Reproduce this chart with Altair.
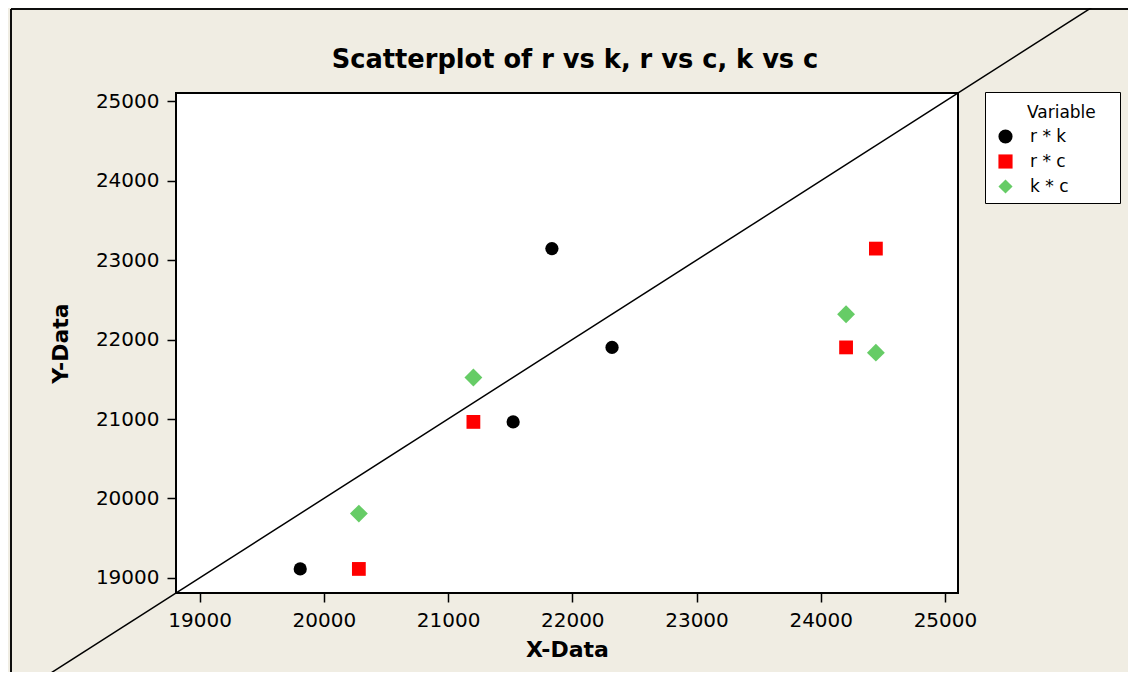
import altair as alt
import pandas as pd

# values
r_vals = [19113, 20964, 23146, 21902]
k_vals = [19810, 21524, 21836, 22320]
c_vals = [20282, 21204, 24444, 24204]

series_names = ["r * k", "r * c", "k * c"]
series_colors = ["#000000", "#FF0000", "#66CC66"]
series_shapes = ["circle", "square", "diamond"]
series_sizes = [175, 190, 320]

tick_values = [19000, 20000, 21000, 22000, 23000, 24000, 25000]
axis_domain = [18810, 25105]
ref_line = [17400, 26600]
title_text = "Scatterplot of r vs k, r vs c, k vs c"
legend_title = "Variable"

rows = []
for i in range(len(r_vals)):
    rows.append({"Variable": "r * k", "x": k_vals[i], "y": r_vals[i]})
for i in range(len(r_vals)):
    rows.append({"Variable": "r * c", "x": c_vals[i], "y": r_vals[i]})
for i in range(len(k_vals)):
    rows.append({"Variable": "k * c", "x": c_vals[i], "y": k_vals[i]})
df = pd.DataFrame(rows)
line_df = pd.DataFrame({"x": ref_line, "y": ref_line})
title_df = pd.DataFrame({"t": [title_text]})

xscale = alt.Scale(domain=axis_domain, nice=False, zero=False)
yscale = alt.Scale(domain=axis_domain, nice=False, zero=False)

zw = "\u200b"
nb = "\u00a0"
legend = alt.Legend(
    orient="none", legendX=809, legendY=-1,
    title=[zw, legend_title + nb * 3 + zw], titleLineHeight=5,
    strokeColor="black", fillColor="white", padding=8,
    labelFont="DejaVu Sans", labelFontSize=17, labelColor="black",
    titleFont="DejaVu Sans", titleFontSize=17, titleFontWeight="normal",
    titleColor="black", titleAnchor="end", labelOffset=16, symbolOffset=4,
    symbolSize=200, rowPadding=7, titlePadding=6, symbolStrokeWidth=0,
    labelExpr="datum.label + '        " + zw + "'",
)

line = alt.Chart(line_df).mark_line(color="black", strokeWidth=1.5, clip=False).encode(
    x=alt.X("x:Q", scale=xscale),
    y=alt.Y("y:Q", scale=yscale),
)

base = alt.Chart(df).encode(
    x=alt.X("x:Q", scale=xscale,
            axis=alt.Axis(title="X-Data", values=tick_values, format="d",
                          titlePadding=9, labelPadding=8)),
    y=alt.Y("y:Q", scale=yscale,
            axis=alt.Axis(title="Y-Data", values=tick_values, format="d",
                          titlePadding=23, labelPadding=8)),
    color=alt.Color("Variable:N", scale=alt.Scale(domain=series_names, range=series_colors), legend=legend),
    shape=alt.Shape("Variable:N", scale=alt.Scale(domain=series_names, range=series_shapes), legend=legend),
)

point_layers = [
    base.transform_filter(alt.datum.Variable == name).mark_point(
        filled=True, opacity=1, strokeWidth=0, size=sz)
    for name, sz in zip(series_names, series_sizes)
]

title = alt.Chart(title_df).mark_text(
    font="DejaVu Sans", fontSize=25.7, fontWeight="bold", color="black",
    align="center", baseline="alphabetic", clip=False,
).encode(text="t:N", x=alt.value(399), y=alt.value(-25))

frame_v = alt.Chart(line_df).mark_rule(color="black", strokeWidth=1.5, clip=False).encode(
    x=alt.value(-165), y=alt.value(-84), y2=alt.value(700))
frame_h = alt.Chart(line_df).mark_rule(color="black", strokeWidth=1.5, clip=False).encode(
    x=alt.value(-165), x2=alt.value(1000), y=alt.value(-84))

chart = alt.layer(frame_v, frame_h, line, *point_layers, title).properties(
    width=782, height=500,
    autosize=alt.AutoSizeParams(type="none"),
    padding={"left": 168, "top": 85, "right": 170, "bottom": 79},
    background="#F0EDE3",
).configure_view(
    stroke="black", strokeWidth=2, fill="white"
).configure_axis(
    labelFont="DejaVu Sans", labelFontSize=20, labelColor="black",
    titleFont="DejaVu Sans", titleFontSize=22, titleFontWeight="bold", titleColor="black",
    tickColor="black", tickSize=9, tickWidth=1.5, grid=False, domain=False,
)

chart.save("out.html", embed_options={"renderer": "svg", "actions": False})
